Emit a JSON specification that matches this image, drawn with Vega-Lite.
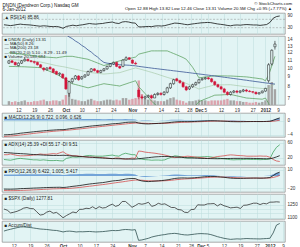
{
"$schema": "https://vega.github.io/schema/vega-lite/v6.json",
"padding": {"left": 1, "top": 1, "right": 0, "bottom": 0},
"background": "white",
"data": {"name": "d"},
"datasets": {"d": [
{"i":0,"d":"2011-09-07","o":10.6,"h":11.0,"l":10.5,"c":10.9,"v":5,"ma":21.1,"bu":12.0,"bm":11.1,"bl":10.2,"rsi":44,"macd":-4.0,"sig":-4.45,"hist":0.45,"ppo":-21.5,"ppos":-23.9,"ppoh":2.4,"adx":34,"pdi":15,"mdi":28,"spx":1198.6,"ad":-117},
{"i":1,"d":"2011-09-08","o":10.9,"h":11.0,"l":10.6,"c":10.7,"v":4,"ma":20.8,"bu":11.95,"bm":11.07,"bl":10.19,"rsi":42,"macd":-3.95,"sig":-4.38,"hist":0.43,"ppo":-21.6,"ppos":-23.95,"ppoh":2.35,"adx":33.5,"pdi":14,"mdi":28,"spx":1185.9,"ad":-105},
{"i":2,"d":"2011-09-09","o":10.7,"h":10.8,"l":10.3,"c":10.4,"v":5,"ma":20.4,"bu":11.9,"bm":11.03,"bl":10.18,"rsi":40,"macd":-3.9,"sig":-4.32,"hist":0.42,"ppo":-21.7,"ppos":-24.04,"ppoh":2.34,"adx":33,"pdi":13,"mdi":30,"spx":1154.2,"ad":-95},
{"i":3,"d":"2011-09-12","o":10.3,"h":10.7,"l":10.2,"c":10.6,"v":4,"ma":20.1,"bu":11.85,"bm":11.0,"bl":10.17,"rsi":42,"macd":-3.8,"sig":-4.25,"hist":0.45,"ppo":-21.5,"ppos":-24.05,"ppoh":2.55,"adx":32,"pdi":15,"mdi":28,"spx":1162.3,"ad":-85},
{"i":4,"d":"2011-09-13","o":10.6,"h":11.0,"l":10.5,"c":10.9,"v":5,"ma":19.7,"bu":11.8,"bm":10.98,"bl":10.16,"rsi":45,"macd":-3.7,"sig":-4.16,"hist":0.46,"ppo":-21.3,"ppos":-23.95,"ppoh":2.65,"adx":31.5,"pdi":17,"mdi":26,"spx":1172.9,"ad":-76},
{"i":5,"d":"2011-09-14","o":10.9,"h":11.3,"l":10.8,"c":11.1,"v":6,"ma":19.4,"bu":11.75,"bm":10.95,"bl":10.15,"rsi":47,"macd":-3.55,"sig":-4.05,"hist":0.5,"ppo":-20.8,"ppos":-23.73,"ppoh":2.93,"adx":31,"pdi":18,"mdi":25,"spx":1188.7,"ad":-68},
{"i":6,"d":"2011-09-15","o":11.1,"h":11.2,"l":10.8,"c":10.9,"v":4,"ma":19.0,"bu":11.69,"bm":10.92,"bl":10.13,"rsi":45,"macd":-3.45,"sig":-3.94,"hist":0.49,"ppo":-20.6,"ppos":-23.53,"ppoh":2.93,"adx":30.5,"pdi":17,"mdi":25,"spx":1209.1,"ad":-66},
{"i":7,"d":"2011-09-16","o":10.9,"h":11.0,"l":10.7,"c":10.8,"v":4,"ma":18.7,"bu":11.63,"bm":10.88,"bl":10.11,"rsi":44,"macd":-3.35,"sig":-3.83,"hist":0.48,"ppo":-20.4,"ppos":-23.32,"ppoh":2.92,"adx":30,"pdi":16,"mdi":25.5,"spx":1216.0,"ad":-70},
{"i":8,"d":"2011-09-19","o":10.8,"h":10.9,"l":10.5,"c":10.7,"v":5,"ma":18.3,"bu":11.57,"bm":10.84,"bl":10.09,"rsi":43,"macd":-3.25,"sig":-3.72,"hist":0.47,"ppo":-20.2,"ppos":-23.12,"ppoh":2.92,"adx":29,"pdi":15,"mdi":26,"spx":1204.1,"ad":-74},
{"i":9,"d":"2011-09-20","o":10.7,"h":10.8,"l":10.3,"c":10.4,"v":5,"ma":18.0,"bu":11.51,"bm":10.8,"bl":10.07,"rsi":41,"macd":-3.15,"sig":-3.61,"hist":0.46,"ppo":-19.9,"ppos":-22.81,"ppoh":2.91,"adx":28.5,"pdi":14,"mdi":27,"spx":1202.1,"ad":-80},
{"i":10,"d":"2011-09-21","o":10.4,"h":10.5,"l":10.0,"c":10.1,"v":6,"ma":17.7,"bu":11.45,"bm":10.75,"bl":10.05,"rsi":39,"macd":-3.05,"sig":-3.5,"hist":0.45,"ppo":-19.7,"ppos":-22.6,"ppoh":2.9,"adx":28,"pdi":14,"mdi":28,"spx":1166.8,"ad":-86},
{"i":11,"d":"2011-09-22","o":10.0,"h":10.1,"l":9.6,"c":9.8,"v":7,"ma":17.3,"bu":11.42,"bm":10.66,"bl":9.9,"rsi":37,"macd":-2.97,"sig":-3.4,"hist":0.43,"ppo":-19.5,"ppos":-22.32,"ppoh":2.82,"adx":27.5,"pdi":13,"mdi":30,"spx":1129.6,"ad":-92},
{"i":12,"d":"2011-09-23","o":9.8,"h":10.1,"l":9.7,"c":10.0,"v":5,"ma":17.0,"bu":11.39,"bm":10.57,"bl":9.75,"rsi":39,"macd":-2.88,"sig":-3.3,"hist":0.42,"ppo":-19.2,"ppos":-22.0,"ppoh":2.8,"adx":27,"pdi":14,"mdi":29,"spx":1136.4,"ad":-95},
{"i":13,"d":"2011-09-26","o":10.1,"h":10.2,"l":9.8,"c":9.9,"v":5,"ma":16.6,"bu":11.36,"bm":10.48,"bl":9.6,"rsi":38,"macd":-2.8,"sig":-3.2,"hist":0.4,"ppo":-19.0,"ppos":-21.71,"ppoh":2.71,"adx":26.5,"pdi":13,"mdi":29,"spx":1162.9,"ad":-98},
{"i":14,"d":"2011-09-27","o":9.9,"h":10.0,"l":9.4,"c":9.5,"v":6,"ma":16.3,"bu":11.33,"bm":10.39,"bl":9.45,"rsi":36,"macd":-2.72,"sig":-3.11,"hist":0.39,"ppo":-18.8,"ppos":-21.49,"ppoh":2.69,"adx":26.2,"pdi":12,"mdi":30,"spx":1175.4,"ad":-103},
{"i":15,"d":"2011-09-28","o":9.6,"h":9.7,"l":9.2,"c":9.3,"v":6,"ma":15.9,"bu":11.3,"bm":10.3,"bl":9.3,"rsi":35,"macd":-2.67,"sig":-3.02,"hist":0.35,"ppo":-18.7,"ppos":-21.16,"ppoh":2.46,"adx":26,"pdi":12,"mdi":31,"spx":1151.1,"ad":-108},
{"i":16,"d":"2011-09-29","o":9.3,"h":9.5,"l":9.1,"c":9.4,"v":5,"ma":15.6,"bu":11.37,"bm":10.23,"bl":9.1,"rsi":36,"macd":-2.6,"sig":-2.94,"hist":0.34,"ppo":-18.6,"ppos":-21.03,"ppoh":2.43,"adx":26,"pdi":12.5,"mdi":30,"spx":1160.4,"ad":-110},
{"i":17,"d":"2011-09-30","o":9.3,"h":9.4,"l":8.8,"c":8.9,"v":7,"ma":15.2,"bu":11.43,"bm":10.17,"bl":8.9,"rsi":33,"macd":-2.55,"sig":-2.87,"hist":0.32,"ppo":-18.5,"ppos":-20.83,"ppoh":2.33,"adx":26,"pdi":11.5,"mdi":33,"spx":1131.4,"ad":-118},
{"i":18,"d":"2011-10-03","o":8.9,"h":9.0,"l":7.7,"c":7.8,"v":13,"ma":14.9,"bu":11.5,"bm":10.1,"bl":8.7,"rsi":27,"macd":-2.55,"sig":-2.8,"hist":0.25,"ppo":-18.9,"ppos":-20.75,"ppoh":1.85,"adx":26.5,"pdi":11,"mdi":36,"spx":1099.2,"ad":-128},
{"i":19,"d":"2011-10-04","o":7.4,"h":8.6,"l":7.1,"c":8.5,"v":15,"ma":14.5,"bu":11.5,"bm":10.01,"bl":8.5,"rsi":36,"macd":-2.45,"sig":-2.73,"hist":0.28,"ppo":-18.5,"ppos":-20.61,"ppoh":2.11,"adx":26,"pdi":18,"mdi":30,"spx":1123.9,"ad":-120},
{"i":20,"d":"2011-10-05","o":8.5,"h":8.9,"l":8.3,"c":8.8,"v":8,"ma":14.2,"bu":11.5,"bm":9.93,"bl":8.3,"rsi":39,"macd":-2.3,"sig":-2.65,"hist":0.35,"ppo":-17.7,"ppos":-20.39,"ppoh":2.69,"adx":25,"pdi":20,"mdi":27,"spx":1144.0,"ad":-118},
{"i":21,"d":"2011-10-06","o":8.8,"h":9.2,"l":8.7,"c":9.1,"v":7,"ma":13.8,"bu":11.42,"bm":9.85,"bl":8.22,"rsi":42,"macd":-2.18,"sig":-2.55,"hist":0.37,"ppo":-17.0,"ppos":-19.88,"ppoh":2.88,"adx":24.5,"pdi":22,"mdi":25,"spx":1164.9,"ad":-122},
{"i":22,"d":"2011-10-07","o":9.1,"h":9.2,"l":8.6,"c":8.7,"v":6,"ma":13.5,"bu":11.34,"bm":9.77,"bl":8.14,"rsi":39,"macd":-2.08,"sig":-2.46,"hist":0.38,"ppo":-16.4,"ppos":-19.39,"ppoh":2.99,"adx":24,"pdi":21,"mdi":25,"spx":1155.5,"ad":-128},
{"i":23,"d":"2011-10-10","o":8.8,"h":9.1,"l":8.7,"c":9.0,"v":5,"ma":13.1,"bu":11.26,"bm":9.68,"bl":8.06,"rsi":42,"macd":-1.97,"sig":-2.36,"hist":0.39,"ppo":-15.7,"ppos":-18.81,"ppoh":3.11,"adx":23,"pdi":22,"mdi":24,"spx":1194.9,"ad":-125},
{"i":24,"d":"2011-10-11","o":9.0,"h":9.3,"l":8.9,"c":9.2,"v":5,"ma":12.8,"bu":11.18,"bm":9.6,"bl":7.98,"rsi":44,"macd":-1.85,"sig":-2.26,"hist":0.41,"ppo":-14.9,"ppos":-18.21,"ppoh":3.31,"adx":22.5,"pdi":23,"mdi":23,"spx":1195.5,"ad":-126},
{"i":25,"d":"2011-10-12","o":9.2,"h":9.7,"l":9.1,"c":9.6,"v":7,"ma":12.4,"bu":11.1,"bm":9.52,"bl":7.9,"rsi":47,"macd":-1.72,"sig":-2.15,"hist":0.43,"ppo":-14.0,"ppos":-17.51,"ppoh":3.51,"adx":22,"pdi":25,"mdi":22,"spx":1207.2,"ad":-124},
{"i":26,"d":"2011-10-13","o":9.6,"h":10.0,"l":9.5,"c":9.9,"v":8,"ma":12.1,"bu":10.94,"bm":9.47,"bl":7.98,"rsi":50,"macd":-1.6,"sig":-2.04,"hist":0.44,"ppo":-13.2,"ppos":-16.84,"ppoh":3.64,"adx":21.5,"pdi":26,"mdi":21,"spx":1203.7,"ad":-122},
{"i":27,"d":"2011-10-14","o":9.9,"h":10.0,"l":9.6,"c":9.7,"v":6,"ma":11.7,"bu":10.78,"bm":9.43,"bl":8.06,"rsi":48,"macd":-1.5,"sig":-1.93,"hist":0.43,"ppo":-12.6,"ppos":-16.2,"ppoh":3.6,"adx":21,"pdi":25,"mdi":21,"spx":1224.6,"ad":-125},
{"i":28,"d":"2011-10-17","o":9.7,"h":9.8,"l":9.4,"c":9.5,"v":5,"ma":11.4,"bu":10.62,"bm":9.39,"bl":8.14,"rsi":47,"macd":-1.42,"sig":-1.83,"hist":0.41,"ppo":-12.0,"ppos":-15.47,"ppoh":3.47,"adx":20,"pdi":24,"mdi":21,"spx":1200.9,"ad":-128},
{"i":29,"d":"2011-10-18","o":9.5,"h":9.8,"l":9.4,"c":9.7,"v":5,"ma":11.0,"bu":10.46,"bm":9.35,"bl":8.22,"rsi":49,"macd":-1.33,"sig":-1.73,"hist":0.4,"ppo":-11.4,"ppos":-14.83,"ppoh":3.43,"adx":19.5,"pdi":24,"mdi":20.5,"spx":1225.4,"ad":-126},
{"i":30,"d":"2011-10-19","o":9.7,"h":10.0,"l":9.6,"c":9.9,"v":6,"ma":10.7,"bu":10.3,"bm":9.31,"bl":8.3,"rsi":50,"macd":-1.25,"sig":-1.63,"hist":0.38,"ppo":-10.9,"ppos":-14.2,"ppoh":3.3,"adx":19,"pdi":24,"mdi":20,"spx":1209.9,"ad":-124},
{"i":31,"d":"2011-10-20","o":9.9,"h":10.3,"l":9.8,"c":10.2,"v":7,"ma":10.6,"bu":10.42,"bm":9.34,"bl":8.25,"rsi":53,"macd":-1.15,"sig":-1.54,"hist":0.39,"ppo":-10.1,"ppos":-13.52,"ppoh":3.42,"adx":18.5,"pdi":25,"mdi":19,"spx":1215.4,"ad":-120},
{"i":32,"d":"2011-10-21","o":10.2,"h":10.6,"l":10.1,"c":10.5,"v":7,"ma":10.55,"bu":10.54,"bm":9.37,"bl":8.21,"rsi":55,"macd":-1.03,"sig":-1.44,"hist":0.41,"ppo":-9.1,"ppos":-12.72,"ppoh":3.62,"adx":18,"pdi":26,"mdi":18,"spx":1238.3,"ad":-115},
{"i":33,"d":"2011-10-24","o":10.5,"h":10.8,"l":10.4,"c":10.7,"v":6,"ma":10.5,"bu":10.66,"bm":9.41,"bl":8.16,"rsi":57,"macd":-0.92,"sig":-1.34,"hist":0.42,"ppo":-8.2,"ppos":-11.94,"ppoh":3.74,"adx":17.5,"pdi":27,"mdi":17,"spx":1254.2,"ad":-110},
{"i":34,"d":"2011-10-25","o":10.7,"h":10.8,"l":10.1,"c":10.2,"v":7,"ma":10.45,"bu":10.78,"bm":9.44,"bl":8.12,"rsi":52,"macd":-0.85,"sig":-1.24,"hist":0.39,"ppo":-7.6,"ppos":-11.1,"ppoh":3.5,"adx":17.2,"pdi":25,"mdi":19,"spx":1229.1,"ad":-112},
{"i":35,"d":"2011-10-26","o":10.2,"h":10.3,"l":9.9,"c":10.0,"v":6,"ma":10.4,"bu":10.9,"bm":9.47,"bl":8.07,"rsi":50,"macd":-0.8,"sig":-1.15,"hist":0.35,"ppo":-7.2,"ppos":-10.37,"ppoh":3.17,"adx":17,"pdi":24,"mdi":19,"spx":1242.0,"ad":-110},
{"i":36,"d":"2011-10-27","o":10.2,"h":11.1,"l":10.1,"c":11.0,"v":9,"ma":10.38,"bu":11.0,"bm":9.58,"bl":8.18,"rsi":57,"macd":-0.68,"sig":-1.06,"hist":0.38,"ppo":-6.2,"ppos":-9.67,"ppoh":3.47,"adx":16.8,"pdi":29,"mdi":17,"spx":1284.6,"ad":-102},
{"i":37,"d":"2011-10-28","o":11.0,"h":11.5,"l":10.9,"c":11.3,"v":9,"ma":10.36,"bu":11.1,"bm":9.69,"bl":8.28,"rsi":59,"macd":-0.55,"sig":-0.96,"hist":0.41,"ppo":-5.1,"ppos":-8.87,"ppoh":3.77,"adx":16.5,"pdi":32,"mdi":16,"spx":1285.1,"ad":-98},
{"i":38,"d":"2011-10-31","o":11.3,"h":11.4,"l":11.0,"c":11.1,"v":7,"ma":10.34,"bu":11.2,"bm":9.8,"bl":8.39,"rsi":57,"macd":-0.47,"sig":-0.86,"hist":0.39,"ppo":-4.4,"ppos":-8.02,"ppoh":3.62,"adx":16.2,"pdi":30,"mdi":17,"spx":1253.3,"ad":-100},
{"i":39,"d":"2011-11-01","o":11.0,"h":11.1,"l":10.5,"c":10.6,"v":8,"ma":10.3,"bu":11.3,"bm":9.91,"bl":8.49,"rsi":53,"macd":-0.45,"sig":-0.78,"hist":0.33,"ppo":-4.2,"ppos":-7.3,"ppoh":3.1,"adx":16,"pdi":28,"mdi":19,"spx":1218.3,"ad":-105},
{"i":40,"d":"2011-11-02","o":10.6,"h":10.8,"l":10.4,"c":10.5,"v":9,"ma":10.27,"bu":11.4,"bm":10.02,"bl":8.6,"rsi":52,"macd":-0.45,"sig":-0.71,"hist":0.26,"ppo":-4.2,"ppos":-6.7,"ppoh":2.5,"adx":16,"pdi":28,"mdi":18,"spx":1237.9,"ad":-100},
{"i":41,"d":"2011-11-03","o":7.7,"h":7.9,"l":6.9,"c":7.1,"v":32,"ma":10.2,"bu":11.8,"bm":9.92,"bl":8.0,"rsi":34,"macd":-0.7,"sig":-0.71,"hist":0.01,"ppo":-6.7,"ppos":-6.7,"ppoh":0,"adx":17,"pdi":17,"mdi":38,"spx":1261.2,"ad":-230},
{"i":42,"d":"2011-11-04","o":7.1,"h":7.3,"l":6.9,"c":7.0,"v":14,"ma":10.15,"bu":11.92,"bm":9.82,"bl":7.69,"rsi":34,"macd":-0.85,"sig":-0.74,"hist":-0.11,"ppo":-8.1,"ppos":-7.0,"ppoh":-1.1,"adx":18,"pdi":16,"mdi":37,"spx":1253.2,"ad":-225},
{"i":43,"d":"2011-11-07","o":7.0,"h":7.2,"l":6.9,"c":7.1,"v":8,"ma":10.1,"bu":12.03,"bm":9.72,"bl":7.38,"rsi":35,"macd":-0.92,"sig":-0.78,"hist":-0.14,"ppo":-8.9,"ppos":-7.4,"ppoh":-1.5,"adx":19,"pdi":14.5,"mdi":35,"spx":1261.1,"ad":-215},
{"i":44,"d":"2011-11-08","o":7.1,"h":7.3,"l":7.0,"c":7.2,"v":7,"ma":10.05,"bu":12.15,"bm":9.61,"bl":7.06,"rsi":36,"macd":-0.95,"sig":-0.81,"hist":-0.14,"ppo":-9.2,"ppos":-7.8,"ppoh":-1.4,"adx":20,"pdi":14,"mdi":34,"spx":1275.9,"ad":-205},
{"i":45,"d":"2011-11-09","o":7.2,"h":7.3,"l":6.9,"c":7.0,"v":7,"ma":10.0,"bu":12.27,"bm":9.51,"bl":6.75,"rsi":35,"macd":-0.9,"sig":-0.83,"hist":-0.07,"ppo":-8.8,"ppos":-8.0,"ppoh":-0.8,"adx":21,"pdi":13,"mdi":33,"spx":1229.1,"ad":-190},
{"i":46,"d":"2011-11-10","o":7.0,"h":7.4,"l":7.0,"c":7.3,"v":6,"ma":9.95,"bu":12.27,"bm":9.4,"bl":6.53,"rsi":38,"macd":-0.85,"sig":-0.84,"hist":-0.01,"ppo":-8.4,"ppos":-8.1,"ppoh":-0.3,"adx":22,"pdi":13.5,"mdi":32,"spx":1239.7,"ad":-180},
{"i":47,"d":"2011-11-11","o":7.3,"h":7.5,"l":7.2,"c":7.4,"v":5,"ma":9.91,"bu":12.27,"bm":9.29,"bl":6.3,"rsi":39,"macd":-0.8,"sig":-0.83,"hist":0.03,"ppo":-8.0,"ppos":-8.1,"ppoh":0.1,"adx":22.5,"pdi":13.5,"mdi":30.5,"spx":1263.9,"ad":-172},
{"i":48,"d":"2011-11-14","o":7.4,"h":7.5,"l":7.2,"c":7.3,"v":5,"ma":9.86,"bu":12.27,"bm":9.17,"bl":6.08,"rsi":38,"macd":-0.75,"sig":-0.82,"hist":0.07,"ppo":-7.5,"ppos":-8.0,"ppoh":0.5,"adx":23,"pdi":13,"mdi":29,"spx":1251.8,"ad":-165},
{"i":49,"d":"2011-11-15","o":7.3,"h":7.6,"l":7.2,"c":7.5,"v":5,"ma":9.82,"bu":12.27,"bm":9.06,"bl":5.85,"rsi":40,"macd":-0.68,"sig":-0.79,"hist":0.11,"ppo":-6.9,"ppos":-7.8,"ppoh":0.9,"adx":23,"pdi":14,"mdi":27,"spx":1257.8,"ad":-160},
{"i":50,"d":"2011-11-16","o":7.5,"h":8.0,"l":7.4,"c":7.9,"v":7,"ma":9.77,"bu":12.27,"bm":8.95,"bl":5.63,"rsi":44,"macd":-0.6,"sig":-0.75,"hist":0.15,"ppo":-6.1,"ppos":-7.5,"ppoh":1.4,"adx":23,"pdi":18,"mdi":25,"spx":1236.9,"ad":-152},
{"i":51,"d":"2011-11-17","o":7.9,"h":8.4,"l":7.8,"c":8.3,"v":9,"ma":9.73,"bu":12.08,"bm":8.85,"bl":5.62,"rsi":48,"macd":-0.5,"sig":-0.7,"hist":0.2,"ppo":-5.1,"ppos":-7.0,"ppoh":1.9,"adx":22.5,"pdi":21,"mdi":22,"spx":1216.1,"ad":-148},
{"i":52,"d":"2011-11-18","o":8.3,"h":8.8,"l":8.2,"c":8.7,"v":10,"ma":9.68,"bu":11.89,"bm":8.76,"bl":5.62,"rsi":52,"macd":-0.4,"sig":-0.64,"hist":0.24,"ppo":-4.1,"ppos":-6.4,"ppoh":2.3,"adx":22,"pdi":25,"mdi":20,"spx":1215.7,"ad":-145},
{"i":53,"d":"2011-11-21","o":8.8,"h":8.9,"l":8.5,"c":8.6,"v":7,"ma":9.64,"bu":11.71,"bm":8.66,"bl":5.61,"rsi":51,"macd":-0.33,"sig":-0.58,"hist":0.25,"ppo":-3.5,"ppos":-5.8,"ppoh":2.3,"adx":21.5,"pdi":24,"mdi":21,"spx":1192.9,"ad":-150},
{"i":54,"d":"2011-11-22","o":8.6,"h":8.7,"l":8.3,"c":8.4,"v":6,"ma":9.59,"bu":11.52,"bm":8.57,"bl":5.61,"rsi":49,"macd":-0.3,"sig":-0.52,"hist":0.22,"ppo":-3.2,"ppos":-5.3,"ppoh":2.1,"adx":21,"pdi":22,"mdi":22,"spx":1188.0,"ad":-158},
{"i":55,"d":"2011-11-23","o":8.4,"h":8.5,"l":7.9,"c":8.0,"v":5,"ma":9.55,"bu":11.33,"bm":8.47,"bl":5.6,"rsi":46,"macd":-0.3,"sig":-0.48,"hist":0.18,"ppo":-3.2,"ppos":-4.9,"ppoh":1.7,"adx":20,"pdi":20,"mdi":23,"spx":1161.8,"ad":-163},
{"i":56,"d":"2011-11-25","o":8.0,"h":8.1,"l":7.6,"c":7.7,"v":3,"ma":9.5,"bu":11.1,"bm":8.33,"bl":5.7,"rsi":44,"macd":-0.32,"sig":-0.45,"hist":0.13,"ppo":-3.4,"ppos":-4.6,"ppoh":1.2,"adx":19.6,"pdi":19,"mdi":24,"spx":1158.7,"ad":-165},
{"i":57,"d":"2011-11-28","o":7.8,"h":8.1,"l":7.7,"c":8.0,"v":5,"ma":9.46,"bu":10.6,"bm":8.2,"bl":5.85,"rsi":47,"macd":-0.3,"sig":-0.42,"hist":0.12,"ppo":-3.2,"ppos":-4.3,"ppoh":1.1,"adx":19.2,"pdi":20,"mdi":23,"spx":1192.6,"ad":-160},
{"i":58,"d":"2011-11-29","o":8.0,"h":8.3,"l":7.9,"c":8.2,"v":5,"ma":9.41,"bu":10.1,"bm":8.06,"bl":6.1,"rsi":49,"macd":-0.27,"sig":-0.39,"hist":0.12,"ppo":-2.9,"ppos":-4.0,"ppoh":1.1,"adx":18.8,"pdi":21,"mdi":22,"spx":1195.2,"ad":-155},
{"i":59,"d":"2011-11-30","o":8.2,"h":8.5,"l":8.1,"c":8.4,"v":6,"ma":9.37,"bu":9.5,"bm":7.93,"bl":6.4,"rsi":51,"macd":-0.22,"sig":-0.36,"hist":0.14,"ppo":-2.4,"ppos":-3.7,"ppoh":1.3,"adx":18.4,"pdi":21.5,"mdi":21,"spx":1246.9,"ad":-150},
{"i":60,"d":"2011-12-01","o":8.4,"h":8.8,"l":8.3,"c":8.7,"v":7,"ma":9.32,"bu":8.9,"bm":7.79,"bl":6.7,"rsi":53,"macd":-0.17,"sig":-0.32,"hist":0.15,"ppo":-1.9,"ppos":-3.3,"ppoh":1.4,"adx":18,"pdi":22,"mdi":20,"spx":1244.6,"ad":-148},
{"i":61,"d":"2011-12-02","o":8.7,"h":8.9,"l":8.6,"c":8.8,"v":6,"ma":9.28,"bu":8.94,"bm":7.87,"bl":6.81,"rsi":54,"macd":-0.12,"sig":-0.28,"hist":0.16,"ppo":-1.3,"ppos":-2.9,"ppoh":1.6,"adx":17.8,"pdi":22.5,"mdi":19,"spx":1244.3,"ad":-150},
{"i":62,"d":"2011-12-05","o":8.8,"h":9.0,"l":8.7,"c":8.9,"v":6,"ma":9.23,"bu":8.99,"bm":7.95,"bl":6.92,"rsi":55,"macd":-0.08,"sig":-0.24,"hist":0.16,"ppo":-0.9,"ppos":-2.5,"ppoh":1.6,"adx":17.6,"pdi":23,"mdi":18,"spx":1257.1,"ad":-152},
{"i":63,"d":"2011-12-06","o":8.9,"h":9.0,"l":8.7,"c":8.8,"v":5,"ma":9.19,"bu":9.03,"bm":8.02,"bl":7.02,"rsi":54,"macd":-0.06,"sig":-0.2,"hist":0.14,"ppo":-0.7,"ppos":-2.1,"ppoh":1.4,"adx":17.4,"pdi":22,"mdi":19,"spx":1258.5,"ad":-160},
{"i":64,"d":"2011-12-07","o":8.8,"h":8.9,"l":8.4,"c":8.5,"v":6,"ma":9.14,"bu":9.08,"bm":8.1,"bl":7.13,"rsi":51,"macd":-0.07,"sig":-0.17,"hist":0.1,"ppo":-0.8,"ppos":-1.9,"ppoh":1.1,"adx":17.2,"pdi":20.5,"mdi":21,"spx":1261.0,"ad":-172},
{"i":65,"d":"2011-12-08","o":8.5,"h":8.6,"l":8.1,"c":8.2,"v":6,"ma":9.1,"bu":9.12,"bm":8.18,"bl":7.24,"rsi":48,"macd":-0.1,"sig":-0.16,"hist":0.06,"ppo":-1.1,"ppos":-1.7,"ppoh":0.6,"adx":17,"pdi":19,"mdi":23,"spx":1234.4,"ad":-185},
{"i":66,"d":"2011-12-09","o":8.2,"h":8.3,"l":7.9,"c":8.0,"v":6,"ma":9.05,"bu":9.12,"bm":8.18,"bl":7.25,"rsi":46,"macd":-0.14,"sig":-0.15,"hist":0.01,"ppo":-1.6,"ppos":-1.7,"ppoh":0.1,"adx":17.2,"pdi":18,"mdi":24,"spx":1255.2,"ad":-195},
{"i":67,"d":"2011-12-12","o":8.0,"h":8.1,"l":7.7,"c":7.8,"v":6,"ma":9.01,"bu":9.11,"bm":8.19,"bl":7.26,"rsi":44,"macd":-0.18,"sig":-0.16,"hist":-0.02,"ppo":-2.1,"ppos":-1.8,"ppoh":-0.3,"adx":17.4,"pdi":17,"mdi":25,"spx":1236.5,"ad":-205},
{"i":68,"d":"2011-12-13","o":7.8,"h":7.9,"l":7.4,"c":7.5,"v":7,"ma":8.96,"bu":9.11,"bm":8.19,"bl":7.28,"rsi":41,"macd":-0.24,"sig":-0.17,"hist":-0.07,"ppo":-2.8,"ppos":-2.0,"ppoh":-0.8,"adx":17.6,"pdi":15.5,"mdi":26.5,"spx":1225.7,"ad":-212},
{"i":69,"d":"2011-12-14","o":7.5,"h":7.6,"l":7.2,"c":7.3,"v":8,"ma":8.92,"bu":9.1,"bm":8.2,"bl":7.29,"rsi":39,"macd":-0.3,"sig":-0.2,"hist":-0.1,"ppo":-3.5,"ppos":-2.3,"ppoh":-1.2,"adx":17.8,"pdi":14.5,"mdi":27.5,"spx":1211.8,"ad":-218},
{"i":70,"d":"2011-12-15","o":7.3,"h":7.6,"l":7.2,"c":7.5,"v":6,"ma":8.87,"bu":9.1,"bm":8.2,"bl":7.3,"rsi":42,"macd":-0.32,"sig":-0.22,"hist":-0.1,"ppo":-3.8,"ppos":-2.6,"ppoh":-1.2,"adx":18,"pdi":14,"mdi":27,"spx":1215.8,"ad":-215},
{"i":71,"d":"2011-12-16","o":7.5,"h":7.7,"l":7.4,"c":7.6,"v":6,"ma":8.83,"bu":9.08,"bm":8.16,"bl":7.24,"rsi":43,"macd":-0.33,"sig":-0.24,"hist":-0.09,"ppo":-3.9,"ppos":-2.9,"ppoh":-1.0,"adx":18,"pdi":14.5,"mdi":26,"spx":1219.7,"ad":-212},
{"i":72,"d":"2011-12-19","o":7.6,"h":7.7,"l":7.4,"c":7.5,"v":5,"ma":8.78,"bu":9.06,"bm":8.12,"bl":7.18,"rsi":42,"macd":-0.33,"sig":-0.26,"hist":-0.07,"ppo":-3.9,"ppos":-3.1,"ppoh":-0.8,"adx":18,"pdi":14.5,"mdi":25.5,"spx":1205.4,"ad":-214},
{"i":73,"d":"2011-12-20","o":7.5,"h":7.7,"l":7.4,"c":7.6,"v":5,"ma":8.74,"bu":9.04,"bm":8.08,"bl":7.12,"rsi":44,"macd":-0.32,"sig":-0.27,"hist":-0.05,"ppo":-3.8,"ppos":-3.3,"ppoh":-0.5,"adx":18,"pdi":15,"mdi":25,"spx":1241.3,"ad":-210},
{"i":74,"d":"2011-12-21","o":7.6,"h":7.8,"l":7.5,"c":7.7,"v":4,"ma":8.69,"bu":9.02,"bm":8.04,"bl":7.06,"rsi":45,"macd":-0.3,"sig":-0.28,"hist":-0.02,"ppo":-3.6,"ppos":-3.4,"ppoh":-0.2,"adx":18,"pdi":15.5,"mdi":24,"spx":1243.7,"ad":-208},
{"i":75,"d":"2011-12-22","o":7.7,"h":7.8,"l":7.5,"c":7.6,"v":4,"ma":8.65,"bu":9.0,"bm":8.0,"bl":7.0,"rsi":44,"macd":-0.29,"sig":-0.28,"hist":-0.01,"ppo":-3.5,"ppos":-3.4,"ppoh":-0.1,"adx":18,"pdi":15,"mdi":24,"spx":1254.0,"ad":-210},
{"i":76,"d":"2011-12-23","o":7.6,"h":7.7,"l":7.5,"c":7.55,"v":3,"ma":8.6,"bu":8.96,"bm":7.97,"bl":6.98,"rsi":43,"macd":-0.28,"sig":-0.28,"hist":0,"ppo":-3.4,"ppos":-3.4,"ppoh":0,"adx":17.8,"pdi":15,"mdi":24,"spx":1265.3,"ad":-211},
{"i":77,"d":"2011-12-27","o":7.55,"h":7.6,"l":7.4,"c":7.5,"v":3,"ma":8.56,"bu":8.91,"bm":7.94,"bl":6.96,"rsi":43,"macd":-0.28,"sig":-0.28,"hist":0,"ppo":-3.4,"ppos":-3.4,"ppoh":0,"adx":17.6,"pdi":15,"mdi":24,"spx":1265.4,"ad":-212},
{"i":78,"d":"2011-12-28","o":7.5,"h":7.55,"l":7.3,"c":7.35,"v":4,"ma":8.51,"bu":8.87,"bm":7.9,"bl":6.94,"rsi":41,"macd":-0.29,"sig":-0.28,"hist":-0.01,"ppo":-3.6,"ppos":-3.4,"ppoh":-0.2,"adx":17.4,"pdi":14.5,"mdi":24.5,"spx":1249.6,"ad":-213},
{"i":79,"d":"2011-12-29","o":7.35,"h":7.5,"l":7.3,"c":7.45,"v":3,"ma":8.47,"bu":8.82,"bm":7.87,"bl":6.92,"rsi":43,"macd":-0.28,"sig":-0.28,"hist":0,"ppo":-3.5,"ppos":-3.4,"ppoh":-0.1,"adx":17.2,"pdi":15,"mdi":24,"spx":1263.0,"ad":-210},
{"i":80,"d":"2011-12-30","o":7.45,"h":7.65,"l":7.4,"c":7.6,"v":4,"ma":8.42,"bu":8.78,"bm":7.84,"bl":6.9,"rsi":45,"macd":-0.25,"sig":-0.27,"hist":0.02,"ppo":-3.1,"ppos":-3.4,"ppoh":0.3,"adx":17,"pdi":15,"mdi":24,"spx":1257.6,"ad":-208},
{"i":81,"d":"2012-01-03","o":7.6,"h":7.9,"l":7.55,"c":7.85,"v":6,"ma":8.38,"bu":8.6,"bm":7.79,"bl":7.0,"rsi":55,"macd":-0.2,"sig":-0.26,"hist":0.06,"ppo":-2.5,"ppos":-3.2,"ppoh":0.7,"adx":17,"pdi":17,"mdi":21,"spx":1277.1,"ad":-205},
{"i":82,"d":"2012-01-04","o":8.6,"h":10.6,"l":8.4,"c":10.4,"v":26,"ma":8.34,"bu":9.2,"bm":7.87,"bl":6.57,"rsi":75,"macd":0.05,"sig":-0.2,"hist":0.25,"ppo":0.6,"ppos":-2.4,"ppoh":3.0,"adx":19,"pdi":35,"mdi":15,"spx":1277.3,"ad":-140},
{"i":83,"d":"2012-01-05","o":10.5,"h":12.5,"l":10.3,"c":12.36,"v":30,"ma":8.3,"bu":10.25,"bm":8.05,"bl":5.85,"rsi":83,"macd":0.42,"sig":-0.08,"hist":0.5,"ppo":4.2,"ppos":-1.0,"ppoh":5.2,"adx":22,"pdi":48,"mdi":11,"spx":1281.1,"ad":-45},
{"i":84,"d":"2012-01-06","o":12.88,"h":13.82,"l":12.46,"c":13.31,"v":20.6,"ma":8.26,"bu":11.5,"bm":8.29,"bl":5.1,"rsi":85.86,"macd":0.722,"sig":0.096,"hist":0.626,"ppo":6.422,"ppos":1.005,"ppoh":5.417,"adx":25.39,"pdi":55.17,"mdi":9.51,"spx":1277.8,"ad":-25}
]},
"spacing": 0,
"resolve": {"scale": {"y": "independent", "x": "independent"}},
"vconcat": [
{
 "width": 283, "height": 21,
 "title": {"text": ["© StockCharts.com", "Open 12.88  High 13.82  Low 12.46  Close 13.31  Volume 20.5M  Chg +0.95 (+7.77%) ▲"], "anchor": "end", "offset": -9, "fontSize": 4.4, "lineHeight": 4.6, "color": "#111", "fontWeight": "normal"},
 "layer": [
  {"data": {"values": [{}]}, "mark": {"type": "rule", "color": "#8c8c8c", "strokeWidth": 0.5, "strokeDash": [2, 1.5]}, "encoding": {"y": {"datum": 70, "type": "quantitative"}}},
  {"data": {"values": [{}]}, "mark": {"type": "rule", "color": "#8c8c8c", "strokeWidth": 0.5, "strokeDash": [2, 1.5]}, "encoding": {"y": {"datum": 30, "type": "quantitative"}}},
  {"mark": {"type": "line", "color": "#111", "strokeWidth": 0.8},
   "encoding": {
    "x": {"field": "i", "type": "quantitative", "scale": {"domain": [-0.6, 85.6], "nice": false, "zero": false},
          "axis": {"orient": "top", "values": [3,8,13,18,23,28,33,39,43,48,53,57,60,62,67,72,77,81,85], "labels": false, "grid": true,
                   "title": ["DNDN (Dendreon Corp.) Nasdaq GM", "6-Jan-2012"], "titleAnchor": "start", "titleAlign": "left", "titleBaseline": "bottom", "titlePadding": 1, "titleLineHeight": 4.6, "titleFontSize": 4.6, "titleColor": "#111"}},
    "y": {"field": "rsi", "type": "quantitative", "scale": {"domain": [0, 100], "nice": false},
          "axis": {"orient": "right", "values": [30, 50, 70, 90], "title": "▲ RSI(14) 85.86", "titleAngle": 0, "titleAlign": "left", "titleBaseline": "top", "titleX": -281, "titleY": 1}}
   }}
 ]
},
{
 "width": 283, "height": 69,
 "encoding": {"x": {"field": "i", "type": "quantitative", "scale": {"domain": [-0.6, 85.6], "nice": false, "zero": false},
   "axis": {"orient": "bottom", "values": [3,8,13,18,23,28,33,39,43,48,53,57,60,62,67,72,77,81,85], "grid": true, "title": null, "labelOverlap": false, "labelFlush": false, "labelBound": false,
            "labelExpr": "['12','19','26','Oct','10','17','24','Nov','7','14','21','28','Dec','5','12','19','27','2012','9'][indexof([3,8,13,18,23,28,33,39,43,48,53,57,60,62,67,72,77,81,85], datum.value)]",
            "labelFontWeight": {"condition": {"test": "indexof([18,39,60,81], datum.value) >= 0", "value": "bold"}, "value": "normal"}}}},
 "layer": [
  {"mark": {"type": "bar", "size": 2.4},
   "encoding": {"y": {"field": "v", "type": "quantitative", "scale": {"domain": [0, 90], "nice": false}, "axis": null},
                "color": {"condition": {"test": "datum.c < datum.o", "value": "#dba3ad"}, "value": "#a5a5a5"}}},
  {"layer": [
    {"mark": {"type": "line", "color": "#4f9a52", "strokeWidth": 0.7, "clip": true},
     "encoding": {"y": {"field": "bu", "type": "quantitative", "scale": {"type": "log", "domain": [6.44, 14.65], "nice": false},
       "axis": {"orient": "right", "values": [7,8,9,10,11,12,13,14], "format": "d",
                "title": ["■ DNDN (Daily) 13.31", "— MA(50) 8.26", "— MA(200) 23.18", "— BB(20,2.0) 5.10 - 8.29 - 11.49", "■ Volume 20,589,684"],
                "titleAngle": 0, "titleAlign": "left", "titleBaseline": "top", "titleX": -281, "titleY": 1.5, "titleLineHeight": 4.2, "titleFontSize": 4.3}}}},
    {"mark": {"type": "line", "color": "#4f9a52", "strokeWidth": 0.7, "clip": true}, "encoding": {"y": {"field": "bl", "type": "quantitative"}}},
    {"mark": {"type": "line", "color": "#9fc4a0", "strokeWidth": 0.6, "clip": true}, "encoding": {"y": {"field": "bm", "type": "quantitative"}}},
    {"mark": {"type": "line", "color": "#3b5795", "strokeWidth": 0.8, "clip": true}, "encoding": {"y": {"field": "ma", "type": "quantitative"}}},
    {"mark": {"type": "rule", "strokeWidth": 0.6},
     "encoding": {"y": {"field": "l", "type": "quantitative"}, "y2": {"field": "h"},
                  "color": {"condition": {"test": "datum.c < datum.o", "value": "#d2143a"}, "value": "#111"}}},
    {"mark": {"type": "bar", "size": 2.2, "strokeWidth": 0.5},
     "encoding": {"y": {"field": "o", "type": "quantitative"}, "y2": {"field": "c"},
                  "fill": {"condition": {"test": "datum.c < datum.o", "value": "#d2143a"}, "value": "#e2f4f4"},
                  "stroke": {"condition": {"test": "datum.c < datum.o", "value": "#d2143a"}, "value": "#111"}}}
  ]}
 ],
 "resolve": {"scale": {"y": "independent"}}
},
{
 "width": 283, "height": 24,
 "encoding": {"x": {"field": "i", "type": "quantitative", "scale": {"domain": [-0.6, 85.6], "nice": false, "zero": false},
   "axis": {"values": [3,8,13,18,23,28,33,39,43,48,53,57,60,62,67,72,77,81,85], "labels": false, "grid": true, "title": null}}},
 "layer": [
  {"mark": {"type": "area", "color": "#6d9fd6", "opacity": 0.95},
   "encoding": {"y": {"field": "hist", "type": "quantitative", "scale": {"domain": [-4.6, 2.1], "nice": false, "zero": false},
     "axis": {"orient": "right", "values": [-4, -2, 0], "title": "■ MACD(12,26,9) 0.722, 0.096, 0.626", "titleAngle": 0, "titleAlign": "left", "titleBaseline": "top", "titleX": -281, "titleY": 1.5}},
     "y2": {"datum": 0}}},
  {"mark": {"type": "line", "color": "#d23a3a", "strokeWidth": 0.7}, "encoding": {"y": {"field": "sig", "type": "quantitative"}}},
  {"mark": {"type": "line", "color": "#111", "strokeWidth": 0.8}, "encoding": {"y": {"field": "macd", "type": "quantitative"}}}
 ]
},
{
 "width": 283, "height": 25,
 "encoding": {"x": {"field": "i", "type": "quantitative", "scale": {"domain": [-0.6, 85.6], "nice": false, "zero": false},
   "axis": {"values": [3,8,13,18,23,28,33,39,43,48,53,57,60,62,67,72,77,81,85], "labels": false, "grid": true, "title": null}}},
 "layer": [
  {"mark": {"type": "line", "color": "#2e9a4c", "strokeWidth": 0.7},
   "encoding": {"y": {"field": "pdi", "type": "quantitative", "scale": {"domain": [0, 68], "nice": false},
     "axis": {"orient": "right", "values": [20, 40, 60], "title": "■ ADX(14) 25.39  +DI 55.17  -DI 9.51", "titleAngle": 0, "titleAlign": "left", "titleBaseline": "top", "titleX": -281, "titleY": 1.5}}}},
  {"mark": {"type": "line", "color": "#d23a3a", "strokeWidth": 0.7}, "encoding": {"y": {"field": "mdi", "type": "quantitative"}}},
  {"mark": {"type": "line", "color": "#111", "strokeWidth": 0.8}, "encoding": {"y": {"field": "adx", "type": "quantitative"}}}
 ]
},
{
 "width": 283, "height": 25,
 "encoding": {"x": {"field": "i", "type": "quantitative", "scale": {"domain": [-0.6, 85.6], "nice": false, "zero": false},
   "axis": {"values": [3,8,13,18,23,28,33,39,43,48,53,57,60,62,67,72,77,81,85], "labels": false, "grid": true, "title": null}}},
 "layer": [
  {"mark": {"type": "area", "color": "#6d9fd6", "opacity": 0.95},
   "encoding": {"y": {"field": "ppoh", "type": "quantitative", "scale": {"domain": [-26.3, 14.8], "nice": false, "zero": false},
     "axis": {"orient": "right", "values": [-20, -10, 0, 10], "title": "■ PPO(12,26,9) 6.422, 1.005, 5.417", "titleAngle": 0, "titleAlign": "left", "titleBaseline": "top", "titleX": -281, "titleY": 1.5}},
     "y2": {"datum": 0}}},
  {"mark": {"type": "line", "color": "#d23a3a", "strokeWidth": 0.7}, "encoding": {"y": {"field": "ppos", "type": "quantitative"}}},
  {"mark": {"type": "line", "color": "#111", "strokeWidth": 0.8}, "encoding": {"y": {"field": "ppo", "type": "quantitative"}}}
 ]
},
{
 "width": 283, "height": 25,
 "mark": {"type": "line", "color": "#333", "strokeWidth": 0.8},
 "encoding": {
  "x": {"field": "i", "type": "quantitative", "scale": {"domain": [-0.6, 85.6], "nice": false, "zero": false},
   "axis": {"values": [3,8,13,18,23,28,33,39,43,48,53,57,60,62,67,72,77,81,85], "labels": false, "grid": true, "title": null}},
  "y": {"field": "spx", "type": "quantitative", "scale": {"domain": [1085, 1370], "nice": false, "zero": false},
   "axis": {"orient": "right", "values": [1100, 1150, 1200, 1250], "format": "d", "title": "■ $SPX (Daily) 1277.81", "titleAngle": 0, "titleAlign": "left", "titleBaseline": "top", "titleX": -281, "titleY": 1.5}}
 }
},
{
 "width": 283, "height": 21,
 "mark": {"type": "line", "color": "#2f4f4f", "strokeWidth": 0.8},
 "encoding": {
  "x": {"field": "i", "type": "quantitative", "scale": {"domain": [-0.6, 85.6], "nice": false, "zero": false},
   "axis": {"orient": "bottom", "values": [3,8,13,18,23,28,33,39,43,48,53,57,60,62,67,72,77,81,85], "grid": true, "title": null, "labelOverlap": false, "labelFlush": false, "labelBound": false, "labelPadding": 1,
            "labelExpr": "['12','19','26','Oct','10','17','24','Nov','7','14','21','28','Dec','5','12','19','27','2012','9'][indexof([3,8,13,18,23,28,33,39,43,48,53,57,60,62,67,72,77,81,85], datum.value)]",
            "labelFontWeight": {"condition": {"test": "indexof([18,39,60,81], datum.value) >= 0", "value": "bold"}, "value": "normal"}}},
  "y": {"field": "ad", "type": "quantitative", "scale": {"domain": [-250, 5], "nice": false, "zero": false},
   "axis": {"orient": "right", "labels": false, "grid": false, "title": "■ Accum/Dist", "titleAngle": 0, "titleAlign": "left", "titleBaseline": "top", "titleX": -281, "titleY": 1.5}}
 }
}
],
"config": {
 "font": "Liberation Sans",
 "view": {"stroke": "#8c8c8c", "strokeWidth": 0.7, "fill": "#e2f4f4"},
 "axis": {"labelFontSize": 4.6, "labelColor": "#333", "ticks": false, "domain": false, "gridColor": "#bcdcdc", "gridWidth": 0.5, "labelPadding": 2, "titleFontSize": 4.6, "titleFontWeight": "normal", "titleColor": "#222"},
 "title": {"fontSize": 4.6, "fontWeight": "normal", "color": "#222"}
}
}
